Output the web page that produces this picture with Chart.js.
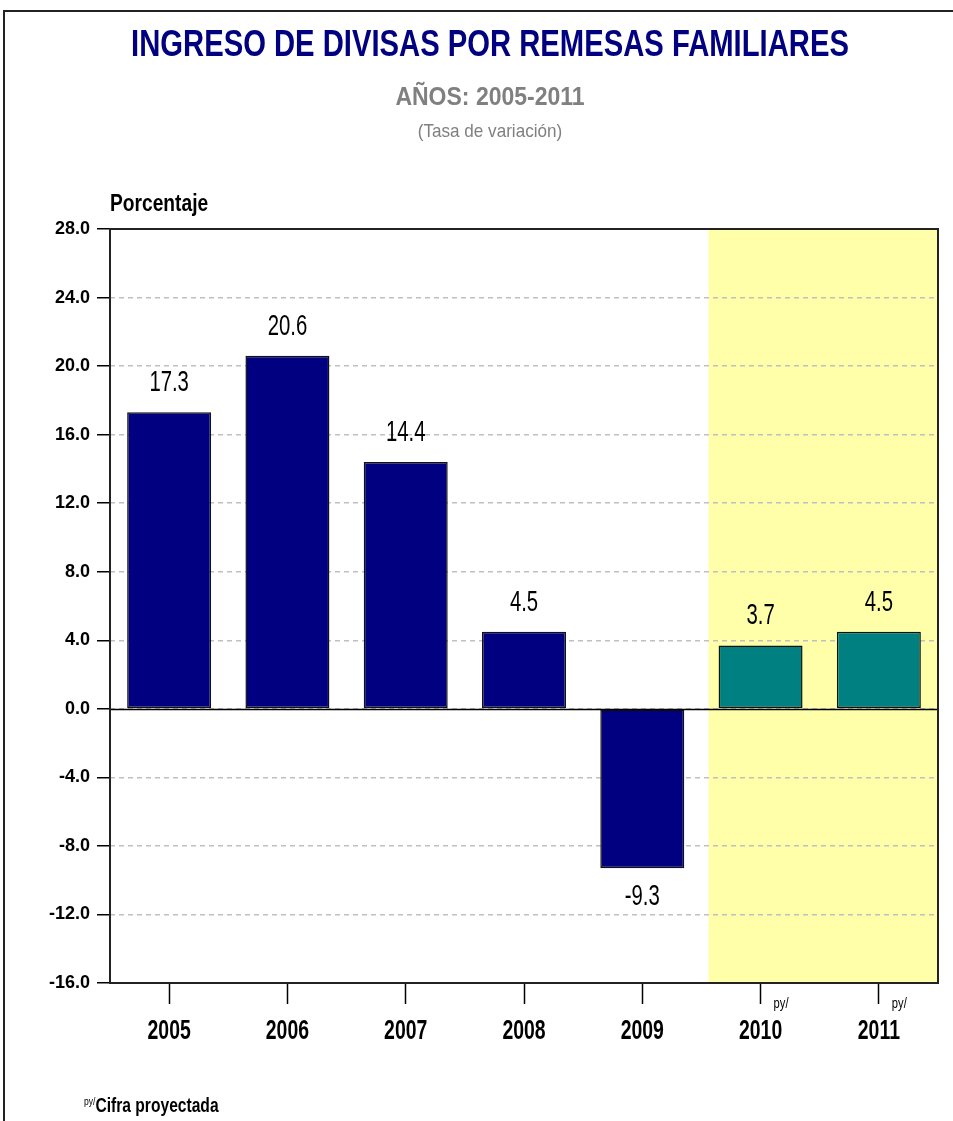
<!DOCTYPE html>
<html>
<head>
<meta charset="utf-8">
<script src="https://cdn.jsdelivr.net/npm/chart.js@4/dist/chart.umd.min.js"></script>
<style>
  html, body { margin: 0; padding: 0; background: #fff; }
  body { width: 953px; height: 1121px; position: relative; overflow: hidden;
         font-family: 'Liberation Sans', Arial, sans-serif; }
  #frame { position: absolute; left: 3px; top: 10px; width: 960px; height: 1130px;
           border-left: 2px solid #222; border-top: 2px solid #222; }
  #wrap { position: absolute; left: 0; top: 0; width: 953px; height: 1121px; }
  .t { position: absolute; left: 0; width: 980px; text-align: center; white-space: nowrap;
       transform-origin: 490px 0; line-height: 1; }
  #title { top: 25px; font-size: 37px; font-weight: bold; color: #000080; transform: scaleX(0.79); }
  #sub { top: 84px; font-size: 25px; font-weight: bold; color: #808080; transform: scaleX(0.92); }
  #sub2 { top: 121px; font-size: 19px; color: #808080; transform: scaleX(0.9); }
  #note { position: absolute; left: 84px; top: 1095px; font-size: 20px; font-weight: bold; color: #000;
          transform: scaleX(0.78); transform-origin: 0 0; white-space: nowrap; line-height: 1; }
  #note sup { font-size: 11px; font-weight: normal; vertical-align: 7px; }
</style>
</head>
<body>
<div id="frame"></div>
<div id="wrap"><canvas id="chart" width="953" height="1121"></canvas></div>
<div class="t" id="title">INGRESO DE DIVISAS POR REMESAS FAMILIARES</div>
<div class="t" id="sub">AÑOS: 2005-2011</div>
<div class="t" id="sub2">(Tasa de variación)</div>
<div id="note"><sup>py/</sup>Cifra proyectada</div>
<script>
const years = ['2005', '2006', '2007', '2008', '2009', '2010', '2011'];
const rates = [17.3, 20.6, 14.4, 4.5, -9.3, 3.7, 4.5];
const projected = [false, false, false, false, false, true, true];
const yMin = -16;
const yMax = 28;
const yStep = 4;

const FONT = "'Liberation Sans', Arial, sans-serif";

// draws horizontally squeezed text (the original uses a narrow face)
function narrowText(ctx, text, x, y, font, sx, align, baseline) {
  ctx.save();
  ctx.font = font;
  ctx.textAlign = align || 'center';
  ctx.textBaseline = baseline || 'alphabetic';
  ctx.translate(x, y);
  ctx.scale(sx, 1);
  ctx.fillText(text, 0, 0);
  ctx.restore();
}

const decorPlugin = {
  id: 'decor',
  beforeDraw(chart) {
    const { ctx, chartArea: a, scales: { x } } = chart;
    const start = x.getPixelForValue(4.56);
    ctx.save();
    ctx.fillStyle = '#ffffaa';
    ctx.fillRect(start, a.top, a.right - start, a.bottom - a.top);
    ctx.restore();
  },
  afterDatasetsDraw(chart) {
    const { ctx, chartArea: a, scales: { x, y } } = chart;
    ctx.save();
    // zero line and frame
    ctx.strokeStyle = '#000';
    ctx.lineWidth = 1.5;
    const y0 = Math.round(y.getPixelForValue(0)) + 0.5;
    ctx.beginPath();
    ctx.moveTo(a.left, y0);
    ctx.lineTo(a.right, y0);
    ctx.stroke();
    ctx.lineWidth = 2;
    ctx.strokeStyle = '#222';
    ctx.strokeRect(a.left, a.top, a.right - a.left, a.bottom - a.top);
    ctx.fillStyle = '#000';

    // value labels
    const meta = chart.getDatasetMeta(0);
    meta.data.forEach((bar, i) => {
      const v = rates[i];
      if (v >= 0) {
        narrowText(ctx, v.toFixed(1), bar.x, bar.y - 21, '29px ' + FONT, 0.7);
      } else {
        narrowText(ctx, v.toFixed(1), bar.x, bar.y + 14, '29px ' + FONT, 0.7, 'center', 'top');
      }
    });

    // category labels + py/ marks on projected years
    x.ticks.forEach((t, i) => {
      const px = x.getPixelForValue(i);
      narrowText(ctx, years[i], px, a.bottom + 56, 'bold 27px ' + FONT, 0.72);
      if (projected[i]) {
        narrowText(ctx, 'py/', px + 13, a.bottom + 25, '14px ' + FONT, 0.8, 'left');
      }
    });

    // y-axis title
    narrowText(ctx, 'Porcentaje', a.left, a.top - 18, 'bold 24px ' + FONT, 0.8, 'left');
    ctx.restore();
  }
};

new Chart(document.getElementById('chart'), {
  type: 'bar',
  data: {
    labels: years,
    datasets: [{
      data: rates,
      backgroundColor: projected.map((p) => (p ? '#008080' : '#000080')),
      borderColor: '#111',
      borderWidth: 1.5,
      borderSkipped: false,
      categoryPercentage: 1,
      barPercentage: 0.71
    }]
  },
  options: {
    responsive: false,
    animation: false,
    layout: { padding: { top: 229, right: 15, left: 0, bottom: 0 } },
    scales: {
      x: {
        offset: true,
        grid: {
          offset: false,
          drawOnChartArea: false,
          drawTicks: true,
          tickLength: 21,
          tickColor: '#000',
          tickWidth: 1.5
        },
        border: { display: false },
        ticks: {
          color: 'rgba(0,0,0,0)',
          padding: 14,
          maxRotation: 0,
          font: { family: FONT, size: 20, weight: 'bold' }
        },
        afterFit: (scale) => { scale.height = 1121 - 983; }
      },
      y: {
        min: yMin,
        max: yMax,
        grid: {
          color: '#c0c0c0',
          lineWidth: 1.5,
          tickLength: 13,
          tickColor: '#000',
          tickWidth: 1.5,
          tickBorderDash: []
        },
        border: { display: false, dash: [5, 4] },
        ticks: {
          stepSize: yStep,
          color: '#000',
          padding: 7,
          font: { family: FONT, size: 18, weight: 'bold' },
          callback: (v) => v.toFixed(1)
        },
        afterFit: (scale) => { scale.width = 110; }
      }
    },
    plugins: {
      legend: { display: false },
      tooltip: { enabled: false }
    }
  },
  plugins: [decorPlugin]
});
</script>
</body>
</html>
